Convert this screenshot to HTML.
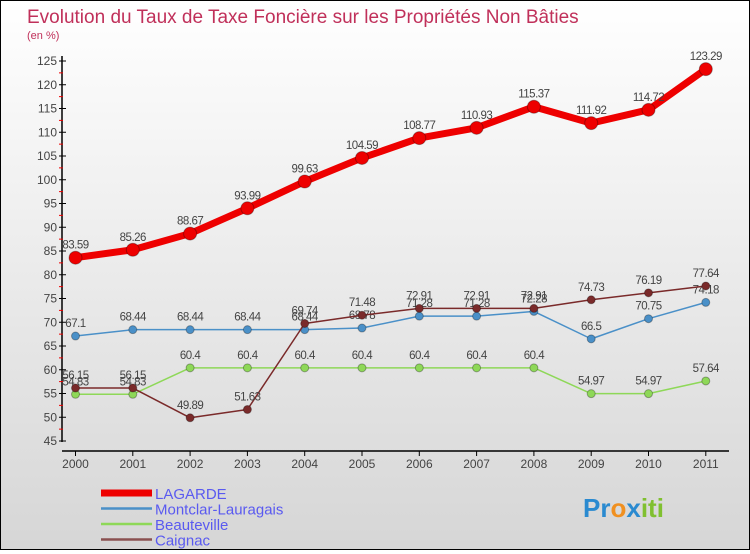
<!DOCTYPE html>
<html><head><meta charset="utf-8"><style>
body{margin:0}
#c{width:748px;height:548px;border:1px solid #000;background:linear-gradient(#fff,#d6d6d6);position:relative;font-family:"Liberation Sans",sans-serif}
svg text{font-family:"Liberation Sans",sans-serif}
</style></head><body>
<div id="c">
<svg id="s" width="748" height="548">
<text x="26" y="22" font-size="19" fill="#c0305a">Evolution du Taux de Taxe Foncière sur les Propriétés Non Bâties</text>
<text x="26" y="38" font-size="11" fill="#c0305a">(en %)</text>
<g id="g"></g>
</svg>
</div>
<script>
const years=[2000,2001,2002,2003,2004,2005,2006,2007,2008,2009,2010,2011];
const lagarde=[83.59,85.26,88.67,93.99,99.63,104.59,108.77,110.93,115.37,111.92,114.72,123.29];
const montclar=[67.1,68.44,68.44,68.44,68.44,68.78,71.28,71.28,72.28,66.5,70.75,74.18];
const beauteville=[54.83,54.83,60.4,60.4,60.4,60.4,60.4,60.4,60.4,54.97,54.97,57.64];
const caignac=[56.15,56.15,49.89,51.63,69.74,71.48,72.91,72.91,72.91,74.73,76.19,77.64];
const yTicks=[45,50,55,60,65,70,75,80,85,90,95,100,105,110,115,120,125];
const seriesNames=["LAGARDE","Montclar-Lauragais","Beauteville","Caignac"];
const NS="http://www.w3.org/2000/svg";
const g=document.getElementById('g');
const X=i=>74.5+i*57.3;
const Y=v=>60+(125-v)*4.75;
function mk(t,a,p){const e=document.createElementNS(NS,t);for(const k in a)e.setAttribute(k,a[k]);(p||g).appendChild(e);return e;}
// axes
let e=mk('line',{x1:61,y1:55,x2:61,y2:441,stroke:'#000','stroke-width':1.5});


e=mk('line',{x1:61,y1:450,x2:728,y2:450,stroke:'#000','stroke-width':1.5});


yTicks.forEach(v=>{
 mk('line',{x1:58,y1:Y(v),x2:65,y2:Y(v),stroke:'#000'});
 if(v<125)mk('line',{x1:58,y1:Y(v+2.5),x2:62,y2:Y(v+2.5),stroke:'#e00'});
 const t=mk('text',{x:56,y:Y(v)+4,'font-size':12,'text-anchor':'end',fill:'#444'});t.textContent=v;
 
 
});
years.forEach((y,i)=>{
 mk('line',{x1:X(i),y1:450,x2:X(i),y2:455,stroke:'#000'});
 const t=mk('text',{x:X(i),y:467,'font-size':12,'text-anchor':'middle',fill:'#444'});t.textContent=y;
 
 
});
function series(vals,col,w,r,name){
 const p=mk('polyline',{points:vals.map((v,i)=>X(i)+','+Y(v)).join(' '),fill:'none',stroke:col,'stroke-width':w,'stroke-linejoin':'round'});
 
 
 vals.forEach((v,i)=>{
  const c=mk('circle',{cx:X(i),cy:Y(v),r:r,fill:col,stroke:'rgba(0,0,0,0.3)'});
  
  
  const t=mk('text',{x:X(i),y:Y(v)-9,'font-size':11.5,'text-anchor':'middle',fill:'#444','letter-spacing':'-0.5'});t.textContent=v;
  
  
 });
}
series(montclar,'#4a90c8',1.5,4,'montclar');
series(beauteville,'#8ed858',1.5,4,'beauteville');
series(caignac,'#7a2a2a',1.5,4,'caignac');
series(lagarde,'#ee0000',7,6.5,'lagarde');
// legend
const cols=['#ee0000','#4a90c8','#8ed858','#8a5050'];
const ws=[7,2.5,2.5,2.5];
seriesNames.forEach((n,i)=>{
 const yy=492+i*15.5;
 mk('line',{x1:100,y1:yy,x2:151,y2:yy,stroke:cols[i],'stroke-width':ws[i]});
 const t=mk('text',{x:154,y:yy+6,'font-size':15,fill:'#5a5af0'});t.textContent=n;
 
 
});
// logo
const lg=mk('text',{x:582,y:516,'font-size':26,'font-weight':'bold',fill:'#2a8ad0'});
lg.innerHTML='Pr<tspan fill="#f09020">o</tspan><tspan fill="#2a8ad0">x</tspan><tspan fill="#80c030">iti</tspan>';


</script>
</body></html>
